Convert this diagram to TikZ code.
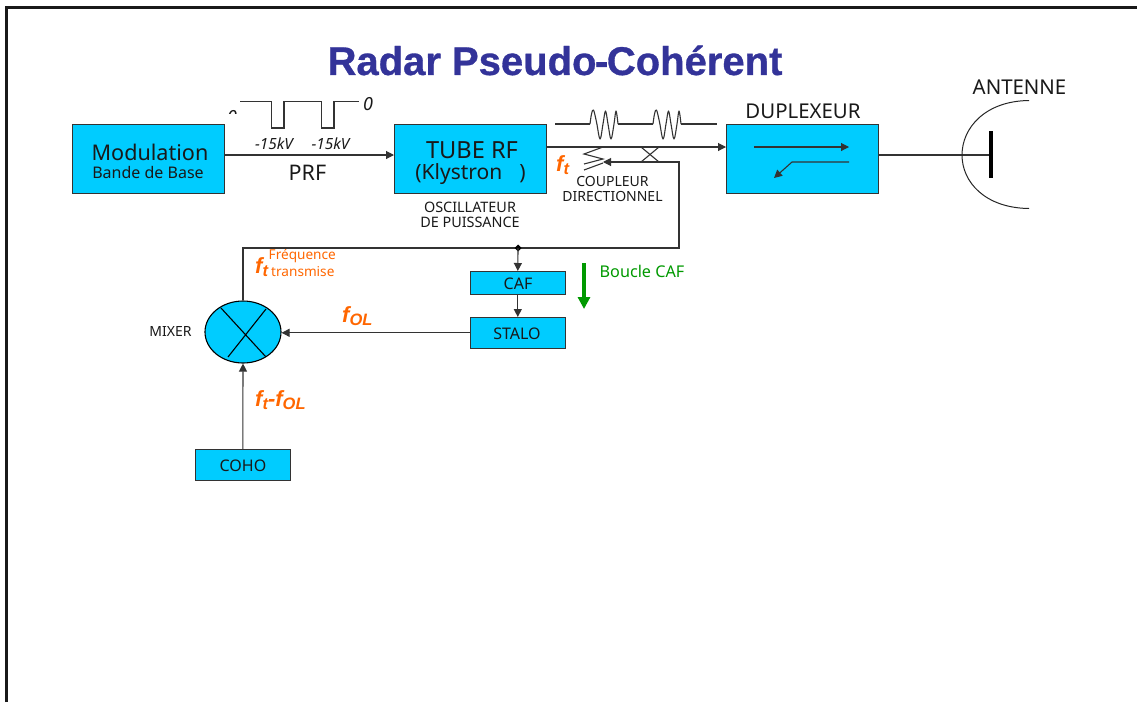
\documentclass[tikz,border=0pt]{standalone}
\usepackage{fontspec}
\setmainfont{Noto Sans}
\newfontfamily\titlefont{Liberation Sans}
\newfontfamily\headfont[BoldFeatures={FakeBold=0.8}]{Liberation Sans}
\usetikzlibrary{arrows.meta,shapes.geometric}
\definecolor{boxcyan}{HTML}{00CCFF}
\definecolor{titleblue}{HTML}{333399}
\definecolor{labelorange}{HTML}{FF6600}
\definecolor{loopgreen}{HTML}{009900}
\newcommand{\fs}[1]{\fontsize{#1}{#1}\selectfont}
\tikzset{
  x=1pt,y=-1pt,
  blockbox/.style={draw=black!80,line width=1.1pt,fill=boxcyan,inner sep=0pt,anchor=north west},
  conn/.style={draw=black!80,line width=1.1pt},
  arr/.style={conn,-{Triangle[length=8pt,width=8pt]}},
  lab/.style={inner sep=0pt,text=black!90,align=center},
  orangelab/.style={inner sep=0pt,text=labelorange,font=\fs{22}\titlefont\bfseries\itshape},
  wavepic/.pic={
    \draw[conn,line join=round] plot[smooth,tension=0.6] coordinates {(0,0) (1.5,-10) (3.5,-14) (6.5,-2) (10,15) (13,0) (15.5,-13) (18,0) (21,15) (24,0) (26,-13) (28,0)};
  }
}
\begin{document}
\begin{tikzpicture}
\useasboundingbox (0,0) rectangle (1137,702);
% frame
\draw[line width=2.5pt,black!90] (6.5,702) -- (6.5,7.5) -- (1137,7.5);
% title
\node[inner sep=0pt,text=titleblue,font=\fs{40}\headfont\bfseries] (title) at (555,60.5) {Radar Pseudo\kern-1.5pt-\kern-1.5ptCohérent};
% blocks
\node[blockbox,minimum width=151.5pt,minimum height=68.5pt] (mod) at (72,124) {};
\node[blockbox,minimum width=151.5pt,minimum height=68.5pt] (tube) at (394,124) {};
\node[blockbox,minimum width=151.5pt,minimum height=68.5pt] (dup) at (726,124) {};
\node[blockbox,minimum width=94.5pt,minimum height=22.5pt] (caf) at (470,271) {};
\node[blockbox,minimum width=94.5pt,minimum height=30.5pt] (stalo) at (470,317) {};
\node[blockbox,minimum width=94.5pt,minimum height=30.5pt] (coho) at (195,449) {};
\node[draw=black,line width=1.1pt,fill=boxcyan,ellipse,minimum width=76pt,minimum height=62pt,inner sep=0pt] (mixer) at (243,332) {};
\node[lab,font=\fs{21.6}] (t1) at (150,152) {Modulation};
\node[lab,font=\fs{16}] (t2) at (148,172) {Bande de Base};
\node[lab,font=\fs{23.6}] (t3) at (472,150) {TUBE RF};
\node[lab,font=\fs{21}] (t4) at (470.5,174) {(Klystron\hspace{17pt})};
\node[lab,font=\fs{20.4}] (t5) at (803,111) {DUPLEXEUR};
\node[lab,font=\fs{20.4}] (t6) at (1019.5,87) {ANTENNE};
\node[lab,font=\fs{16}] at (518,284) {CAF};
\node[lab,font=\fs{16}] at (517,334) {STALO};
\node[lab,font=\fs{16}] at (243,466) {COHO};
\node[lab,font=\fs{14}] at (170.5,331) {MIXER};
\node[lab,font=\fs{14.4}] at (470,215) {OSCILLATEUR\\[1.2pt]DE PUISSANCE};
\node[lab,font=\fs{14}] at (612.5,189) {COUPLEUR\\[1.8pt]DIRECTIONNEL};
\node[lab,font=\fs{21.5}] at (307.5,173) {PRF};
\node[lab,font=\fs{15.4}\itshape] at (274,144) {-15kV};
\node[lab,font=\fs{15.4}\itshape] at (330.5,144) {-15kV};
\node[lab,font=\fs{18}\itshape] at (368,104) {0};
\begin{scope}
\clip (220,100) rectangle (240,113.5);
\node[lab,font=\fs{18}\itshape] at (232,117) {0};
\end{scope}
\node[inner sep=0pt,text=loopgreen,font=\fs{16.2}] at (642,271) {Boucle CAF};
\node[orangelab,anchor=west] at (255,267) {f\raisebox{-3pt}{\fs{16.5}t}};
\node[inner sep=0pt,text=labelorange,font=\fs{13.6},anchor=west] at (268.5,256) {Fréquence};
\node[inner sep=0pt,text=labelorange,font=\fs{13.6},anchor=west] at (271,272) {transmise};
\node[orangelab,anchor=west] at (342,316) {f\raisebox{-3pt}{\fs{16.5}OL}};
\node[orangelab,anchor=west] at (255,400) {f\raisebox{-3pt}{\fs{16.5}t}-f\raisebox{-3pt}{\fs{16.5}OL}};
\node[orangelab,anchor=west] at (556,165) {f\raisebox{-3pt}{\fs{16.5}t}};
% waveform
\draw[conn] (240,101.5) -- (271.5,101.5) -- (271.5,128) -- (284,128) -- (284,101.5) -- (321.5,101.5) -- (321.5,128) -- (334,128) -- (334,101.5) -- (359,101.5);
% wave symbols
\coordinate (w0) at (555,124);
\coordinate (w1) at (590,124);
\coordinate (w2) at (618,124);
\coordinate (w3) at (653,124);
\coordinate (w4) at (681,124);
\coordinate (w5) at (717,124);
\draw[conn] (w0) -- (w1) (w2) -- (w3) (w4) -- (w5);
\pic at (w1) {wavepic};
\pic at (w3) {wavepic};
% connectors
\draw[arr] (mod.east |- 0,155) -- (tube.west |- 0,155);
\draw[arr] (tube.east |- 0,147) -- (dup.west |- 0,147);
\draw[conn] (603,147) -- (584,154) -- (603,159) -- (584,164) (603,163) -- (584,170);
\draw[conn] (641,147) -- (659,162) (659,147) -- (641,162);
\coordinate (jn) at (518,248);
\coordinate (ret) at (603,162);
\draw[arr] (mixer.north) -- (243,248) -- (679,248) -- (679,162) -- (ret);
\fill[black] (518,244.5) -- (521.5,248) -- (518,251.5) -- (514.5,248) -- cycle;
\draw[arr] (jn) -- (caf.north);
\draw[arr] (caf.south) -- (stalo.north);
\draw[arr] (stalo.west) -- (stalo.west -| mixer.east);
\draw[arr] (coho.north) -- (mixer.south);
% mixer cross
\draw[conn,black] (221,308) -- (266,357) (266,309) -- (228,357);
% duplexer arrows
\coordinate (d1) at (754,147);
\coordinate (d2) at (849,147);
\coordinate (d3) at (849,162);
\coordinate (d4) at (792,162);
\coordinate (d5) at (774,178);
\draw[arr] (d1) -- (d2);
\draw[arr] (d3) -- (d4) -- (d5);
% antenna
\coordinate (bar) at (991,155);
\draw[conn] (dup.east |- 0,155) -- (bar);
\draw[line width=4.5pt,black] (991,131) -- (991,178);
\draw[line width=1pt,black!85] (1029,100.5) .. controls (985,101) and (962,128) .. (962,155) .. controls (962,182) and (985,208) .. (1029,208.5);
% green arrow
\draw[draw=loopgreen,line width=4.5pt,-{Triangle[length=12pt,width=12pt]}] (584,263) -- (584,309);
\end{tikzpicture}
\end{document}
